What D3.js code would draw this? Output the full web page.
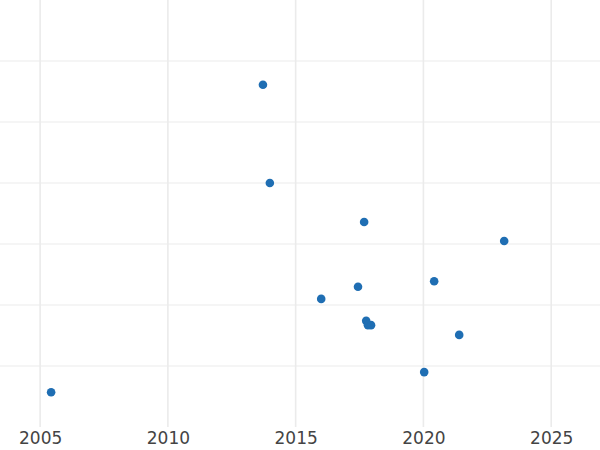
<!DOCTYPE html>
<html><head><meta charset="utf-8">
<script src="https://cdn.jsdelivr.net/npm/d3@7"></script>
<style>body{margin:0;background:#fff}</style></head>
<body><svg id="c" width="600" height="450"></svg>
<script>
const years = [2005.43,2013.72,2013.99,2017.68,2023.16,2020.42,2017.44,2016.0,2017.76,2017.83,2017.95,2021.4,2020.03];
const values = [0.57,5.61,4.0,3.36,3.05,2.39,2.30,2.10,1.74,1.67,1.67,1.51,0.90];
const xTicks = [2005,2010,2015,2020,2025];
const yGrid = [1,2,3,4,5,6];

const svg = d3.select("#c");
const x = d3.scaleLinear().domain([2003.43,2026.91]).range([0,600]);
const y = d3.scaleLinear().domain([0,7]).range([427,0]);

svg.append("g").selectAll("line").data(yGrid).join("line")
  .attr("x1",0).attr("x2",600).attr("y1",d=>y(d)).attr("y2",d=>y(d))
  .attr("stroke","#ebebeb").attr("stroke-width",1.2);
svg.append("g").selectAll("line").data(xTicks).join("line")
  .attr("x1",d=>x(d)).attr("x2",d=>x(d)).attr("y1",0).attr("y2",427)
  .attr("stroke","#ebebeb").attr("stroke-width",1.6);

const ax = svg.append("g").attr("transform","translate(0,427)")
  .call(d3.axisBottom(x).tickValues(xTicks).tickFormat(d3.format("d")).tickSize(0).tickPadding(5));
ax.select(".domain").remove();
ax.selectAll("text").attr("font-family","DejaVu Sans").attr("font-size",17).attr("fill","#444");

svg.append("g").selectAll("circle").data(years).join("circle")
  .attr("cx",d=>x(d)).attr("cy",(d,i)=>y(values[i])).attr("r",4.3)
  .attr("fill","#1f6eb3");
</script></body></html>
